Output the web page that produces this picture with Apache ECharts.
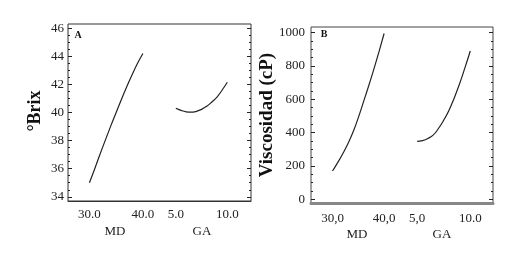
<!DOCTYPE html>
<html>
<head>
<meta charset="utf-8">
<script src="https://cdn.jsdelivr.net/npm/echarts@6/dist/echarts.min.js"></script>
<style>
  html, body { margin: 0; padding: 0; background: #fff; }
  #chart { width: 522px; height: 254px; }
</style>
</head>
<body>
<div id="chart"></div>
<script>
// MD (maltodextrina) y GA (goma arábiga) - niveles
const mdX = [30, 31, 32, 33, 34, 35, 36, 37, 38, 39, 40]
const gaX = [5, 5.5, 6, 6.5, 7, 7.5, 8, 8.5, 9, 9.5, 10]
// A - °Brix
const brixMD = [35.0, 36.0, 37.05, 38.05, 39.05, 40.0, 40.95, 41.85, 42.7, 43.5, 44.2]
const brixGA = [40.3, 40.15, 40.05, 40.02, 40.08, 40.22, 40.45, 40.75, 41.1, 41.6, 42.15]
// B - Viscosidad (cP)
const viscMD = [170, 220, 275, 335, 405, 490, 585, 680, 780, 885, 995]
const viscGA = [348, 352, 365, 385, 425, 475, 535, 610, 695, 790, 890]
// etiquetas de los ejes
const brixTicks = [34, 36, 38, 40, 42, 44, 46]
const brixMinor = [34.5, 35, 35.5, 36.5, 37, 37.5, 38.5, 39, 39.5, 40.5, 41, 41.5, 42.5, 43, 43.5, 44.5, 45, 45.5]
const viscTicks = [0, 200, 400, 600, 800, 1000]
const viscMinor = [50, 100, 150, 250, 300, 350, 450, 500, 550, 650, 700, 750, 850, 900, 950]
const mdTicks = [30, 40]
const gaTicks = [5, 10]
const mdLabelsA = ['30.0', '40.0']
const gaLabelsA = ['5.0', '10.0']
const mdLabelsB = ['30,0', '40,0']
const gaLabelsB = ['5,0', '10.0']

const serif = "'Liberation Serif', 'Times New Roman', serif"
const ink = '#222'

const zip = (xs, ys) => xs.map((x, i) => [x, ys[i]])

// eje x que solo muestra etiquetas
function xLabelAxis(grid, min, max, ticks, labels, margin, line) {
  return {
    type: 'value',
    gridIndex: grid,
    position: 'bottom',
    min: min,
    max: max,
    splitLine: { show: false },
    axisTick: { show: false },
    axisLine: line ? { show: true, onZero: false, lineStyle: line } : { show: false, onZero: false },
    axisLabel: {
      customValues: ticks,
      margin: margin,
      color: ink,
      fontFamily: serif,
      fontSize: 13,
      formatter: v => labels[ticks.indexOf(v)]
    }
  }
}

// eje y: etiquetas o solo marcas
function yTickAxis(grid, min, max, pos, ticks, len, labels, margin) {
  return {
    type: 'value',
    gridIndex: grid,
    position: pos,
    min: min,
    max: max,
    splitLine: { show: false },
    axisLine: { show: false, onZero: false },
    axisTick: {
      show: true,
      inside: true,
      length: len,
      customValues: ticks,
      lineStyle: { color: ink, width: 1 }
    },
    axisLabel: {
      show: !!labels,
      customValues: ticks,
      margin: margin || 4,
      color: ink,
      fontFamily: serif,
      fontSize: 13,
      formatter: v => String(v)
    }
  }
}

function curve(xi, yi, data) {
  return {
    type: 'line',
    xAxisIndex: xi,
    yAxisIndex: yi,
    data: data,
    smooth: true,
    showSymbol: false,
    lineStyle: { color: ink, width: 1.2 }
  }
}

const option = {
  animation: false,
  grid: [
    { left: 68, top: 24, width: 183, height: 177, show: true, borderColor: '#333', borderWidth: 1 },
    { left: 311, top: 27, width: 182, height: 176, show: true, borderColor: '#444', borderWidth: 1 }
  ],
  xAxis: [
    xLabelAxis(0, 26.0, 60.2, mdTicks, mdLabelsA, 7, { color: '#333', width: 1 }),
    xLabelAxis(0, -5.47, 12.3, gaTicks, gaLabelsA, 7),
    xLabelAxis(1, 25.83, 61.1, mdTicks, mdLabelsB, 9, { color: '#888', width: 3 }),
    xLabelAxis(1, -5.0, 12.14, gaTicks, gaLabelsB, 9)
  ],
  yAxis: [
    yTickAxis(0, 33.7, 46.3, 'left', brixTicks, 4, true, 4),
    yTickAxis(0, 33.7, 46.3, 'right', brixTicks, 4),
    yTickAxis(0, 33.7, 46.3, 'left', brixMinor, 2),
    yTickAxis(0, 33.7, 46.3, 'right', brixMinor, 2),
    yTickAxis(1, -22, 1034, 'left', viscTicks, 4, true, 6),
    yTickAxis(1, -22, 1034, 'right', viscTicks, 4),
    yTickAxis(1, -22, 1034, 'left', viscMinor, 2),
    yTickAxis(1, -22, 1034, 'right', viscMinor, 2)
  ],
  series: [
    curve(0, 0, zip(mdX, brixMD)),
    curve(1, 0, zip(gaX, brixGA)),
    curve(2, 4, zip(mdX, viscMD)),
    curve(3, 4, zip(gaX, viscGA))
  ],
  graphic: [
    { type: 'text', x: 35, y: 111, rotation: Math.PI / 2,
      style: { text: '°Brix', font: 'bold 18px ' + serif, fill: '#111', align: 'center', verticalAlign: 'middle' } },
    { type: 'text', x: 267, y: 115, rotation: Math.PI / 2,
      style: { text: 'Viscosidad (cP)', font: 'bold 19px ' + serif, fill: '#111', align: 'center', verticalAlign: 'middle' } },
    { type: 'text', x: 78, y: 35,
      style: { text: 'A', font: 'bold 10px ' + serif, fill: '#111', align: 'center', verticalAlign: 'middle' } },
    { type: 'text', x: 324, y: 34,
      style: { text: 'B', font: 'bold 10px ' + serif, fill: '#111', align: 'center', verticalAlign: 'middle' } },
    { type: 'text', x: 115, y: 232,
      style: { text: 'MD', font: '13px ' + serif, fill: ink, align: 'center', verticalAlign: 'middle' } },
    { type: 'text', x: 202, y: 232,
      style: { text: 'GA', font: '13px ' + serif, fill: ink, align: 'center', verticalAlign: 'middle' } },
    { type: 'text', x: 357, y: 235,
      style: { text: 'MD', font: '13px ' + serif, fill: ink, align: 'center', verticalAlign: 'middle' } },
    { type: 'text', x: 442, y: 235,
      style: { text: 'GA', font: '13px ' + serif, fill: ink, align: 'center', verticalAlign: 'middle' } }
  ]
}

const chart = echarts.init(document.getElementById('chart'))
chart.setOption(option)
</script>
</body>
</html>
